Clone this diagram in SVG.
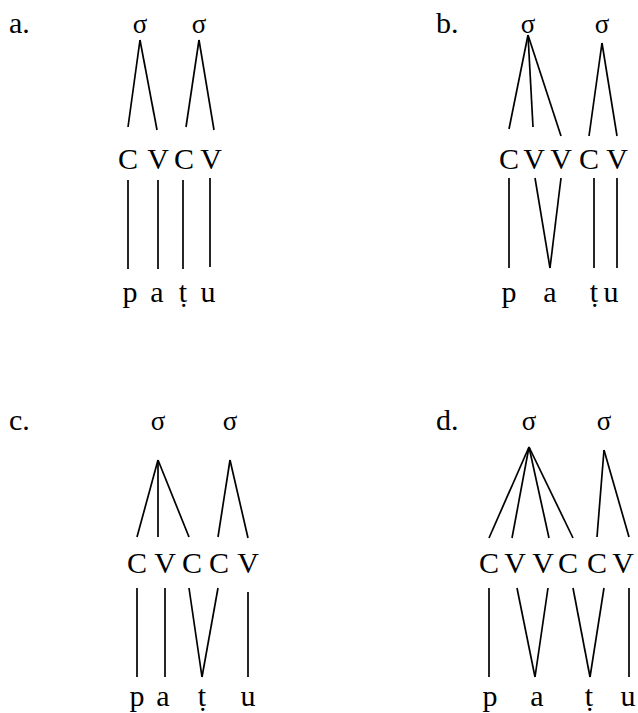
<svg xmlns="http://www.w3.org/2000/svg" width="638" height="713" viewBox="0 0 638 713">
<style>
text{font-family:"Liberation Serif","Times New Roman",serif;fill:#000}
.lab{font-size:30px}
.sg{font-size:27px;text-anchor:middle}
.cv{font-size:30px;text-anchor:middle}
.seg{font-size:30px;text-anchor:middle}
.ln line{stroke:#000;stroke-width:1.7;stroke-linecap:butt}
</style>
<rect width="638" height="713" fill="#fff"/>
<!-- panel a -->
<g id="panel-a">
<text class="lab" x="9" y="33">a.</text>
<g id="a-s1"><text class="sg" x="140" y="33">σ</text></g>
<g id="a-s2"><text class="sg" x="199" y="33">σ</text></g>
<g id="a-C1"><text class="cv" x="128" y="169">C</text></g>
<g id="a-V1"><text class="cv" x="158" y="169">V</text></g>
<g id="a-C2"><text class="cv" x="184" y="169">C</text></g>
<g id="a-V2"><text class="cv" x="211" y="169">V</text></g>
<g id="a-p"><text class="seg" x="130" y="302">p</text></g>
<g id="a-a"><text class="seg" x="157" y="302">a</text></g>
<g id="a-t"><text class="seg" x="183" y="302">ṭ</text></g>
<g id="a-u"><text class="seg" x="208" y="302">u</text></g>
<g class="ln" id="a-edges">
<line x1="140" y1="40" x2="128" y2="127"/>
<line x1="140" y1="40" x2="157" y2="130"/>
<line x1="199" y1="40" x2="186" y2="127"/>
<line x1="199" y1="40" x2="214" y2="130"/>
<line x1="128" y1="180" x2="128" y2="269"/>
<line x1="158" y1="180" x2="158" y2="269"/>
<line x1="183" y1="180" x2="183" y2="269"/>
<line x1="210" y1="178" x2="210" y2="267"/>
</g>
</g>
<!-- panel b -->
<g id="panel-b">
<text class="lab" x="436" y="33">b.</text>
<g id="b-s1"><text class="sg" x="528" y="33">σ</text></g>
<g id="b-s2"><text class="sg" x="602" y="33">σ</text></g>
<g id="b-C1"><text class="cv" x="509" y="169">C</text></g>
<g id="b-V1"><text class="cv" x="534" y="169">V</text></g>
<g id="b-V2"><text class="cv" x="561" y="169">V</text></g>
<g id="b-C2"><text class="cv" x="589" y="169">C</text></g>
<g id="b-V3"><text class="cv" x="617" y="169">V</text></g>
<g id="b-p"><text class="seg" x="509" y="302">p</text></g>
<g id="b-a"><text class="seg" x="550" y="302">a</text></g>
<g id="b-t"><text class="seg" x="594" y="302">ṭ</text></g>
<g id="b-u"><text class="seg" x="611" y="302">u</text></g>
<g class="ln" id="b-edges">
<line x1="528" y1="35" x2="509" y2="129"/>
<line x1="528" y1="35" x2="533" y2="127"/>
<line x1="528" y1="35" x2="561" y2="136"/>
<line x1="602" y1="43" x2="589" y2="136"/>
<line x1="602" y1="43" x2="617" y2="136"/>
<line x1="509" y1="178" x2="509" y2="268"/>
<line x1="535" y1="178" x2="550" y2="268"/>
<line x1="561" y1="178" x2="550" y2="268"/>
<line x1="594" y1="178" x2="594" y2="268"/>
<line x1="617" y1="178" x2="617" y2="268"/>
</g>
</g>
<!-- panel c -->
<g id="panel-c">
<text class="lab" x="9" y="430">c.</text>
<g id="c-s1"><text class="sg" x="158" y="430">σ</text></g>
<g id="c-s2"><text class="sg" x="230" y="430">σ</text></g>
<g id="c-C1"><text class="cv" x="137" y="573">C</text></g>
<g id="c-V1"><text class="cv" x="165" y="573">V</text></g>
<g id="c-C2"><text class="cv" x="192" y="573">C</text></g>
<g id="c-C3"><text class="cv" x="219" y="573">C</text></g>
<g id="c-V2"><text class="cv" x="248" y="573">V</text></g>
<g id="c-p"><text class="seg" x="137" y="706">p</text></g>
<g id="c-a"><text class="seg" x="163" y="706">a</text></g>
<g id="c-t"><text class="seg" x="202" y="706">ṭ</text></g>
<g id="c-u"><text class="seg" x="248" y="706">u</text></g>
<g class="ln" id="c-edges">
<line x1="158" y1="460" x2="137" y2="537"/>
<line x1="158" y1="460" x2="158" y2="537"/>
<line x1="158" y1="460" x2="189" y2="537"/>
<line x1="230" y1="460" x2="218" y2="537"/>
<line x1="230" y1="460" x2="248" y2="538"/>
<line x1="137" y1="588" x2="137" y2="677"/>
<line x1="165" y1="588" x2="165" y2="677"/>
<line x1="189" y1="588" x2="202" y2="677"/>
<line x1="218" y1="588" x2="202" y2="677"/>
<line x1="248" y1="592" x2="248" y2="677"/>
</g>
</g>
<!-- panel d -->
<g id="panel-d">
<text class="lab" x="436" y="430">d.</text>
<g id="d-s1"><text class="sg" x="529" y="430">σ</text></g>
<g id="d-s2"><text class="sg" x="604" y="430">σ</text></g>
<g id="d-C1"><text class="cv" x="489" y="573">C</text></g>
<g id="d-V1"><text class="cv" x="515" y="573">V</text></g>
<g id="d-V2"><text class="cv" x="543" y="573">V</text></g>
<g id="d-C2"><text class="cv" x="568" y="573">C</text></g>
<g id="d-C3"><text class="cv" x="597" y="573">C</text></g>
<g id="d-V3"><text class="cv" x="623" y="573">V</text></g>
<g id="d-p"><text class="seg" x="490" y="706">p</text></g>
<g id="d-a"><text class="seg" x="537" y="706">a</text></g>
<g id="d-t"><text class="seg" x="589" y="706">ṭ</text></g>
<g id="d-u"><text class="seg" x="628" y="706">u</text></g>
<g class="ln" id="d-edges">
<line x1="529" y1="447" x2="489" y2="538"/>
<line x1="529" y1="447" x2="512" y2="538"/>
<line x1="529" y1="447" x2="549" y2="538"/>
<line x1="529" y1="447" x2="573" y2="538"/>
<line x1="604" y1="450" x2="597" y2="537"/>
<line x1="604" y1="450" x2="629" y2="537"/>
<line x1="489" y1="588" x2="489" y2="677"/>
<line x1="517" y1="588" x2="535" y2="677"/>
<line x1="548" y1="588" x2="535" y2="677"/>
<line x1="573" y1="588" x2="590" y2="677"/>
<line x1="604" y1="588" x2="590" y2="677"/>
<line x1="629" y1="588" x2="629" y2="677"/>
</g>
</g>
</svg>
